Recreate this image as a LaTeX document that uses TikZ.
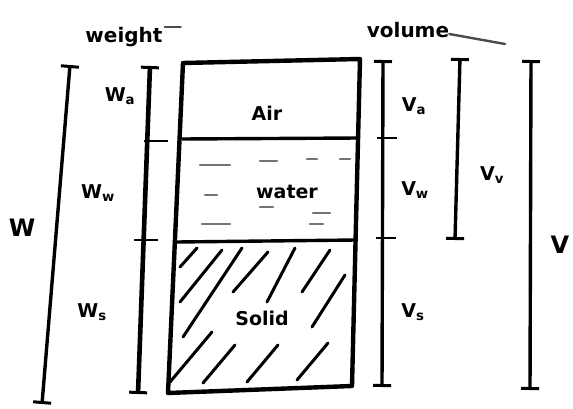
\documentclass[tikz,border=0pt]{standalone}
\usepackage{fontspec}
\setmainfont{DejaVu Sans}
\usetikzlibrary{arrows.meta}
\begin{document}
\begin{tikzpicture}[x=1pt,y=-1pt,
  boxline/.style={line width=4.4pt,line join=round},
  divline/.style={line width=3.4pt},
  barline/.style={line width=3.4pt,line cap=round,{Bar[width=18pt,line width=3pt]}-{Bar[width=18pt,line width=3pt]}},
  tick/.style={line width=2.4pt},
  hatch/.style={line width=3pt,line cap=round},
  wdash/.style={line width=2.4pt,black!55,line cap=round},
  lbl/.style={font=\bfseries\fontsize{19}{19}\selectfont,inner sep=0pt},
  head/.style={font=\bfseries\fontsize{20}{20}\selectfont,inner sep=0pt}]
\useasboundingbox (0,0) rectangle (573,409);
\fill[white] (0,0) rectangle (573,409);

% box corners
\coordinate (tl) at (183,63);
\coordinate (tr) at (360,59);
\coordinate (br) at (352,386);
\coordinate (bl) at (168,393);
\coordinate (awl) at (182,139);
\coordinate (awr) at (359,138);
\coordinate (wsl) at (177,242);
\coordinate (wsr) at (356,240);
\draw[boxline] (tl) -- (tr) -- (br) -- (bl) -- cycle;
\draw[divline] (awl) -- (awr);
\draw[divline] (wsl) -- (wsr);

% water dashes
\foreach \a/\b/\c in {200/230/165, 260/277/161, 307/317/159, 340/350/159,
                      205/217/195, 260/273/207, 313/330/213, 202/230/224, 310/323/224}
  \draw[wdash] (\a,\c) -- (\b,\c);

% solid hatching
\foreach \p/\q in {{(180,267)}/{(197,248)}, {(180,302)}/{(222,250)}, {(183,337)}/{(242,248)},
                   {(233,292)}/{(268,252)}, {(267,302)}/{(295,248)}, {(302,292)}/{(330,250)},
                   {(312,327)}/{(345,275)}, {(170,382)}/{(212,332)}, {(203,383)}/{(235,345)},
                   {(247,382)}/{(278,345)}, {(297,380)}/{(328,343)}}
  \draw[hatch] \p -- \q;

% phase labels
\node[lbl] (air) at (267,113) {Air};
\node[lbl] (water) at (287,192) {water};
\node[fill=white,inner sep=3pt,lbl] (solid) at (262,318) {Solid};

% headings
\node[head] (weight) at (124,37) {weight};
\node[head] (volume) at (408,30) {volume};
\coordinate (vtail) at (505,44);
\draw[line width=2.4pt,black!70,line cap=round] (volume.east) ++(0,4) -- (vtail);
\draw[line width=2.4pt,black!70,line cap=round] (weight.east) ++(2,-10) -- ++(16,0);

% weight bars
\coordinate (Wt) at (70,65);   \coordinate (Wb) at (42,404);
\coordinate (wt) at (150,66);  \coordinate (wb) at (138,394);
\coordinate (wm1) at (148,141); \coordinate (wm2) at (144,240);
\draw[barline] (Wt) -- (Wb);
\draw[barline,line width=4.6pt] (wt) -- (wb);
\draw[tick] ([xshift=-4pt]wm1) -- ++(24,0);
\draw[tick] ([xshift=-10pt]wm2) -- ++(24,0);

% volume bars
\coordinate (vt) at (383,60);  \coordinate (vb) at (382,387);
\coordinate (vm1) at (383,138); \coordinate (vm2) at (382,238);
\coordinate (vvt) at (460,58); \coordinate (vvb) at (455,240);
\coordinate (Vt) at (531,60);  \coordinate (Vb) at (530,390);
\draw[barline] (vt) -- (vb);
\draw[tick] ([xshift=-6pt]vm1) -- ++(20,0);
\draw[tick] ([xshift=-6pt]vm2) -- ++(20,0);
\draw[barline] (vvt) -- (vvb);
\draw[barline] (Vt) -- (Vb);

% quantity labels
\node[lbl,font=\bfseries\fontsize{24}{24}\selectfont] (Wlab) at (22,228) {W};
\node[lbl] (Wa) at (120,96) {W\textsubscript{a}};
\node[lbl] (Ww) at (98,193) {W\textsubscript{w}};
\node[lbl] (Ws) at (92,312) {W\textsubscript{s}};
\node[lbl] (Va) at (414,106) {V\textsubscript{a}};
\node[lbl] (Vw) at (415,190) {V\textsubscript{w}};
\node[lbl] (Vs) at (413,312) {V\textsubscript{s}};
\node[lbl] (Vv) at (492,175) {V\textsubscript{v}};
\node[lbl,font=\bfseries\fontsize{24}{24}\selectfont] (Vlab) at (560,245) {V};
\end{tikzpicture}
\end{document}
